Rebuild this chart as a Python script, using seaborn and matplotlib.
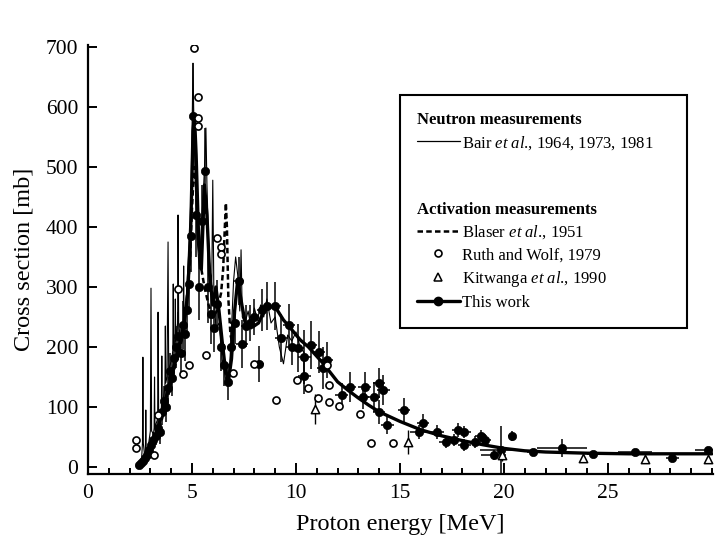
import matplotlib
matplotlib.use("Agg")
import matplotlib.pyplot as plt
import numpy as np
import pandas as pd
import seaborn as sns
from matplotlib.lines import Line2D
from matplotlib.ticker import FixedLocator, MultipleLocator

# ---------------- data ----------------
# Bair et al. neutron measurements (thin line)
bair_energy = [
    2.30, 2.40, 2.50, 2.58, 2.62, 2.64, 2.66, 2.72, 2.76, 2.78,
    2.80, 2.90, 3.00, 3.03, 3.06, 3.15, 3.18, 3.20, 3.22, 3.30,
    3.35, 3.37, 3.40, 3.50, 3.53, 3.55, 3.57, 3.65, 3.70, 3.72,
    3.74, 3.80, 3.85, 3.88, 3.95, 4.05, 4.08, 4.10, 4.12, 4.18,
    4.20, 4.22, 4.28, 4.31, 4.33, 4.36, 4.45, 4.55, 4.58, 4.60,
    4.62, 4.70, 4.75, 4.85, 4.95, 5.02, 5.05, 5.08, 5.15, 5.25,
    5.35, 5.45, 5.55, 5.63, 5.67, 5.72, 5.82, 5.95, 6.00, 6.05,
    6.15, 6.30, 6.45, 6.60, 6.70, 6.80, 6.90, 7.00, 7.10, 7.20,
    7.30, 7.36, 7.42, 7.55, 7.70, 7.85, 8.00, 8.15, 8.30, 8.45,
    8.60, 8.80, 9.00, 9.20, 9.40, 9.60, 9.80, 10.00, 10.20, 10.40]
bair_sigma = [
    2, 5, 10, 15, 40, 183, 40, 20, 25, 95,
    25, 35, 60, 298, 60, 55, 65, 150, 65, 75,
    80, 258, 80, 90, 100, 185, 100, 120, 135, 235,
    140, 150, 375, 160, 170, 185, 195, 305, 195, 200,
    280, 210, 230, 240, 420, 240, 210, 230, 240, 335,
    240, 260, 300, 360, 450, 600, 673, 600, 480, 380,
    330, 400, 460, 520, 565, 470, 350, 300, 478, 300,
    230, 240, 180, 150, 135, 160, 230, 310, 350, 320,
    260, 362, 250, 240, 260, 230, 265, 245, 270, 250,
    280, 240, 250, 200, 172, 220, 210, 225, 200, 190]

# Blaser et al. 1951 (dashed line)
blaser_energy = [2.8, 3.0, 3.3, 3.6, 3.9, 4.2, 4.5, 4.7, 4.9, 5.0,
                 5.1, 5.2, 5.3, 5.45, 5.6, 5.8, 6.0, 6.2, 6.4, 6.5,
                 6.58, 6.63, 6.68, 6.75, 6.85, 7.0]
blaser_sigma = [10, 25, 50, 85, 125, 170, 210, 260, 340, 430,
                500, 470, 400, 330, 300, 270, 250, 260, 290, 330,
                400, 440, 400, 280, 220, 200]

# Ruth and Wolf 1979 (open circles)
ruth_energy = [2.3, 2.3, 3.17, 3.37, 4.33, 4.56, 4.86, 5.1, 5.28, 5.28,
               5.3, 5.67, 6.2, 6.4, 6.4, 6.97, 7.98, 9.04, 10.05, 10.58,
               11.06, 11.5, 11.6, 11.6, 12.07, 13.1, 13.6, 14.66]
ruth_sigma = [45, 32, 20, 87, 297, 155, 170, 698, 617, 582,
              568, 187, 382, 367, 355, 157, 172, 112, 145, 132,
              115, 170, 137, 108, 102, 88, 40, 40]

# Kitwanga et al. 1990 (open triangles)
kit_energy = [10.9, 15.4, 19.9, 23.8, 26.8, 29.8]
kit_sigma = [97, 42, 20, 15, 13, 13]
kit_dsigma = [25, 20, 10, 5, 5, 5]

# This work: data points with errors
tw_energy = [
    2.45, 2.55, 2.65, 2.75, 2.85, 2.95, 3.05, 3.15, 3.25, 3.35,
    3.45, 3.55, 3.65, 3.75, 3.85, 3.95, 4.05, 4.15, 4.25, 4.35,
    4.45, 4.55, 4.65, 4.75, 4.85, 4.95, 5.05, 5.2, 5.35, 5.5,
    5.63, 5.75, 5.9, 6.05, 6.2, 6.4, 6.55, 6.75, 6.9, 7.05,
    7.25, 7.4, 7.6, 7.8, 8.0, 8.2, 8.35, 8.6, 9.0, 9.3,
    9.67, 9.8, 10.1, 10.4, 10.4, 10.7, 11.1, 11.3, 11.5, 12.2,
    12.6, 13.2, 13.3, 13.75, 14.0, 14.0, 14.2, 14.4, 15.2, 15.9,
    16.1, 16.8, 17.2, 17.6, 17.8, 18.1, 18.1, 18.6, 18.9, 19.1,
    19.5, 19.85, 20.4, 21.4, 22.8, 24.3, 26.3, 28.1, 29.8]
tw_sigma = [
    3, 6, 10, 15, 20, 28, 36, 45, 52, 65,
    58, 92, 110, 100, 132, 160, 148, 182, 200, 218,
    190, 236, 222, 262, 305, 385, 585, 420, 300, 410,
    493, 300, 255, 232, 272, 200, 170, 142, 200, 240,
    310, 205, 235, 240, 250, 172, 262, 268, 268, 215,
    237, 200, 198, 183, 152, 203, 192, 165, 178, 120,
    133, 117, 133, 117, 92, 140, 128, 70, 95, 58,
    73, 58, 42, 45, 62, 58, 37, 42, 52, 45,
    20, 28, 52, 25, 32, 22, 25, 15, 28]
tw_dsigma = [
    3, 4, 5, 6, 8, 10, 12, 14, 15, 18,
    20, 22, 25, 25, 30, 30, 30, 35, 35, 40,
    40, 40, 45, 45, 50, 60, 88, 70, 55, 60,
    72, 60, 50, 40, 40, 40, 35, 30, 30, 35,
    40, 40, 35, 30, 30, 30, 35, 40, 40, 40,
    35, 30, 40, 45, 30, 40, 35, 35, 30, 20,
    25, 20, 25, 25, 20, 25, 25, 15, 20, 12,
    15, 12, 10, 10, 12, 10, 10, 10, 10, 10,
    8, 40, 8, 5, 15, 5, 5, 5, 6]
tw_denergy = [
    0.05, 0.05, 0.05, 0.05, 0.05, 0.05, 0.05, 0.05, 0.05, 0.05,
    0.05, 0.05, 0.05, 0.05, 0.06, 0.06, 0.06, 0.06, 0.08, 0.08,
    0.08, 0.08, 0.08, 0.1, 0.1, 0.1, 0.15, 0.1, 0.1, 0.1,
    0.12, 0.1, 0.15, 0.2, 0.2, 0.15, 0.15, 0.15, 0.2, 0.2,
    0.25, 0.3, 0.25, 0.2, 0.2, 0.25, 0.2, 0.3, 0.3, 0.3,
    0.3, 0.3, 0.3, 0.3, 0.3, 0.3, 0.3, 0.3, 0.3, 0.3,
    0.3, 0.3, 0.3, 0.3, 0.3, 0.3, 0.3, 0.3, 0.3, 0.4,
    0.3, 0.3, 0.3, 0.3, 0.3, 0.3, 0.3, 0.3, 0.3, 0.3,
    0.6, 1.0, 0.2, 0.3, 1.2, 0.3, 0.8, 0.3, 0.6]

# This work: thick evaluated curve
curve_energy = [2.4, 2.6, 2.8, 3.0, 3.2, 3.4, 3.6, 3.8, 4.0, 4.2, 4.4, 4.6, 4.8,
                4.95, 5.05, 5.12, 5.2, 5.32, 5.45, 5.6, 5.72, 5.85, 6.0,
                6.15, 6.3, 6.45, 6.6, 6.75, 6.9, 7.05, 7.2, 7.4, 7.6,
                7.9, 8.2, 8.55, 9.0, 9.4, 9.7, 10.2, 10.6, 11.3, 12.0,
                12.5, 13.0, 13.5, 14.0, 15.0, 16.0, 17.0, 18.0, 19.0, 20.0,
                21.0, 22.0, 24.0, 26.0, 28.0, 30.0]
curve_sigma = [1, 8, 18, 32, 50, 70, 95, 122, 150, 178, 205, 235, 290,
               410, 560, 585, 520, 380, 330, 470, 420, 320, 270,
               300, 260, 210, 165, 142, 180, 260, 312, 270, 233,
               233, 240, 267, 267, 245, 233, 212, 200, 173, 142,
               128, 115, 103, 92, 76, 62, 52, 44, 37, 31,
               27, 25, 23, 22, 22, 22]

x_major = [0, 5, 10, 15, 20, 25]
x_major_labels = ["0", "5", "10", "15", "20", "25"]
y_major = [0, 100, 200, 300, 400, 500, 600, 700]

# ---------------- tables ----------------
bair = pd.DataFrame({"E": bair_energy, "s": bair_sigma})
blaser = pd.DataFrame({"E": blaser_energy, "s": blaser_sigma})
ruth = pd.DataFrame({"E": ruth_energy, "s": ruth_sigma})
kit = pd.DataFrame({"E": kit_energy, "s": kit_sigma, "ds": kit_dsigma})
tw = pd.DataFrame({"E": tw_energy, "s": tw_sigma, "ds": tw_dsigma, "dE": tw_denergy})
curve = pd.DataFrame({"E": curve_energy, "s": curve_sigma})

# ---------------- style ----------------
sns.set_theme(style="ticks")
plt.rcParams["font.family"] = ["Liberation Serif", "DejaVu Serif"]
plt.rcParams["mathtext.fontset"] = "custom"
plt.rcParams["mathtext.rm"] = "Liberation Serif"
plt.rcParams["mathtext.it"] = "Liberation Serif:italic"
plt.rcParams["mathtext.bf"] = "Liberation Serif:bold"

fig = plt.figure(figsize=(7.17, 5.41), dpi=100)
ax = fig.add_axes([0.1227, 0.1238, 0.8717, 0.793])

K = "black"
sns.lineplot(data=bair, x="E", y="s", ax=ax, color=K, linewidth=0.8,
             estimator=None, sort=False, zorder=2)
sns.lineplot(data=blaser, x="E", y="s", ax=ax, color=K, linewidth=1.8,
             linestyle=(0, (2.2, 1.3)), estimator=None, sort=False, zorder=3)
ax.errorbar(tw["E"], tw["s"], yerr=tw["ds"], xerr=tw["dE"], fmt="none",
            ecolor=K, elinewidth=1.1, capsize=0, zorder=3)
sns.lineplot(data=curve, x="E", y="s", ax=ax, color=K, linewidth=2.4,
             estimator=None, sort=False, zorder=4)
sns.scatterplot(data=tw, x="E", y="s", ax=ax, color=K, marker="o", s=36,
                edgecolor=K, linewidth=0.5, zorder=5)
ax.errorbar(kit["E"], kit["s"], yerr=kit["ds"], fmt="none", ecolor=K,
            elinewidth=1.0, capsize=0, zorder=5)
sns.scatterplot(data=kit, x="E", y="s", ax=ax, marker="^", s=36,
                facecolor="white", edgecolor=K, linewidth=1.1, zorder=6)
sns.scatterplot(data=ruth, x="E", y="s", ax=ax, marker="o", s=26,
                facecolor="white", edgecolor=K, linewidth=1.2, zorder=6)

# ---------------- axes ----------------
ax.set_xlim(0, 30.05)
ax.set_ylim(-11.7, 703.3)
sns.despine(ax=ax)
for side in ("left", "bottom"):
    ax.spines[side].set_linewidth(1.6)
    ax.spines[side].set_color(K)
ax.xaxis.set_major_locator(FixedLocator(x_major))
ax.set_xticklabels(x_major_labels)
ax.xaxis.set_minor_locator(MultipleLocator(1))
ax.yaxis.set_major_locator(FixedLocator(y_major))
ax.tick_params(axis="x", which="major", direction="in", length=8, width=1.4,
               labelsize=15.5, pad=7, colors=K)
ax.tick_params(axis="x", which="minor", direction="in", length=4.5, width=1.4,
               colors=K)
ax.tick_params(axis="y", which="major", direction="in", length=6.5, width=1.4,
               labelsize=15.5, pad=7, colors=K)
ax.set_xlabel("Proton energy [MeV]", fontsize=17.5, labelpad=8, color=K)
ax.set_ylabel("Cross section [mb]", fontsize=17.5, labelpad=8, color=K)
ax.grid(False)

# ---------------- legend ----------------
handles = [
    Line2D([], [], linestyle="none"),
    Line2D([], [], color=K, linewidth=0.9),
    Line2D([], [], linestyle="none"),
    Line2D([], [], linestyle="none"),
    Line2D([], [], linestyle="none"),
    Line2D([], [], color=K, linewidth=1.8, linestyle=(0, (2.2, 1.3))),
    Line2D([], [], linestyle="none", marker="o", markersize=5,
           markerfacecolor="white", markeredgecolor=K, markeredgewidth=1.2),
    Line2D([], [], linestyle="none", marker="^", markersize=6,
           markerfacecolor="white", markeredgecolor=K, markeredgewidth=1.1),
    Line2D([], [], color=K, linewidth=2.4, marker="o", markersize=6),
]
headers = ["Neutron measurements", "Activation measurements"]
labels = [
    headers[0],
    r"Bair $\mathit{et\ al}$., 1964, 1973, 1981",
    " ",
    " ",
    headers[1],
    r"Blaser $\mathit{et\ al}$., 1951",
    "Ruth and Wolf, 1979",
    r"Kitwanga $\mathit{et\ al}$., 1990",
    "This work",
]
leg = ax.legend(handles, labels, loc="upper left",
                bbox_to_anchor=(0.499, 0.347, 0.459, 0.536), mode="expand",
                fontsize=12, frameon=True, fancybox=False, framealpha=1,
                edgecolor=K, borderpad=1.0, borderaxespad=0,
                handlelength=2.6, handletextpad=0.15, labelspacing=0.36)
leg.get_frame().set_linewidth(1.5)
for col in leg._legend_handle_box.get_children():
    for row in col.get_children():
        ch = row.get_children()
        if len(ch) == 2 and hasattr(ch[1], "get_text") and ch[1].get_text() in headers:
            row._children = [ch[1]]
for t in leg.get_texts():
    t.set_color(K)
    if t.get_text() in headers:
        t.set_fontweight("bold")

fig.savefig("out.png", dpi=100)
